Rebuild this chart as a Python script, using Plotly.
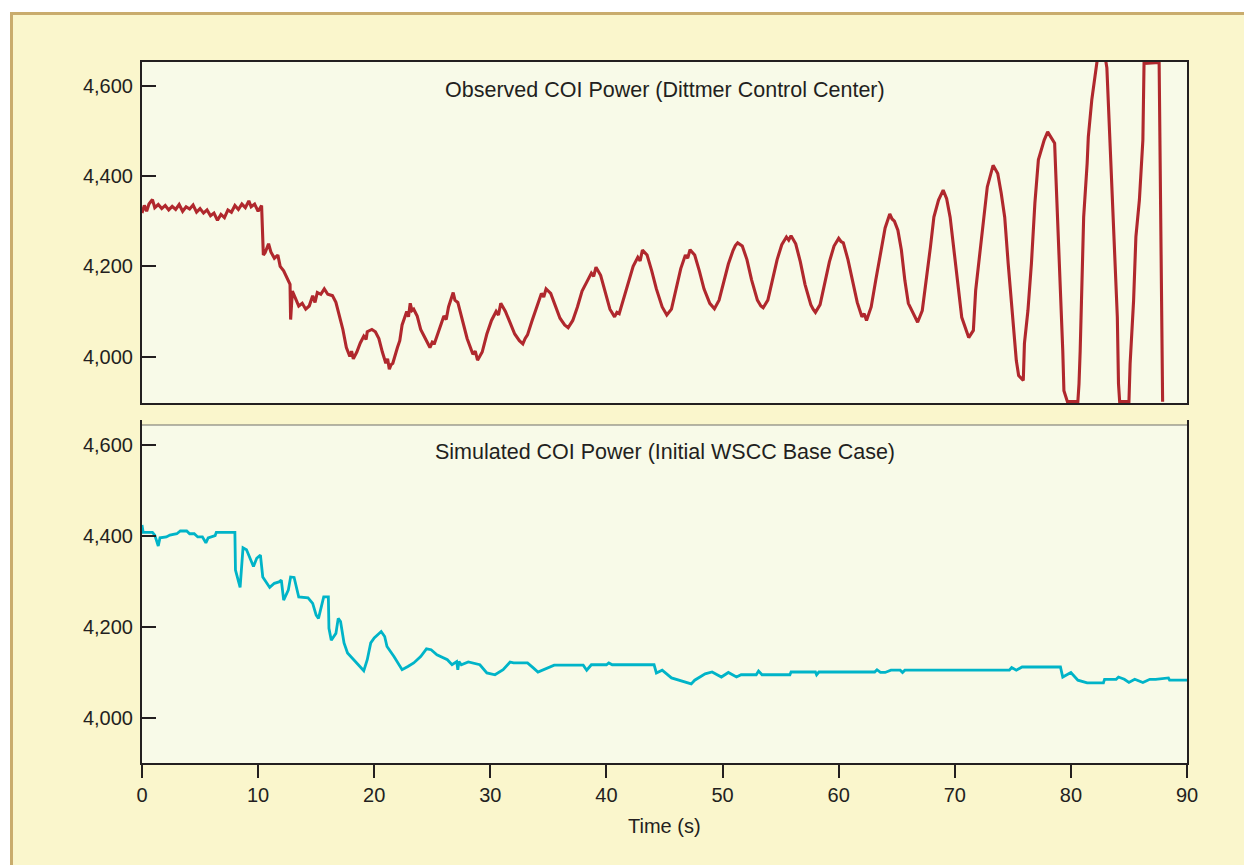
import plotly.graph_objects as go

# ---------------- data ----------------
obs_t = [0, 0.2, 0.4, 0.6, 0.9, 1.1, 1.4, 1.7, 2.0, 2.3, 2.6, 2.9, 3.2, 3.5, 3.8, 4.1, 4.4, 4.7,
         5.0, 5.3, 5.6, 5.9, 6.2, 6.5, 6.8, 7.1, 7.4, 7.7, 8.0, 8.3, 8.6, 8.9, 9.2, 9.4, 9.7, 10.0, 10.3,
         10.45, 10.6, 10.9, 11.1, 11.4, 11.7, 11.9, 12.2, 12.5, 12.75, 12.8, 12.95, 13.2, 13.5, 13.8,
         14.1, 14.4, 14.7, 14.9, 15.1, 15.4, 15.7, 16.0, 16.4, 16.7, 17.0, 17.3, 17.6, 17.9, 18.05, 18.2,
         18.5, 18.8, 19.1, 19.3, 19.4, 19.8, 20.1, 20.4, 20.7, 21.0, 21.15, 21.3, 21.45, 21.6, 22.0, 22.2, 22.4,
         22.8, 22.95, 23.1, 23.25, 23.4, 23.7, 24.0, 24.4, 24.8, 25.0, 25.2, 25.6, 26.0, 26.2, 26.4, 26.8,
         26.95, 27.2, 27.6, 28.0, 28.5, 28.7, 28.9, 29.3, 29.7, 30.1, 30.5, 30.7, 30.9, 31.3, 31.7,
         32.1, 32.5, 32.8, 33.0, 33.2, 33.6, 34.0, 34.4, 34.6, 34.8, 35.2, 35.6, 36.0, 36.4, 36.7,
         36.9, 37.1, 37.5, 37.9, 38.3, 38.7, 38.9, 39.1, 39.5, 39.9, 40.3, 40.7, 40.9, 41.1, 41.5,
         41.9, 42.3, 42.7, 42.9, 43.1, 43.5, 43.9, 44.3, 44.8, 45.0, 45.2, 45.6, 46.0, 46.4, 46.8,
         47.0, 47.2, 47.6, 48.0, 48.4, 48.9, 49.1, 49.3, 49.7, 50.1, 50.5, 50.9, 51.1, 51.3, 51.7,
         52.1, 52.5, 53.0, 53.3, 53.5, 53.9, 54.3, 54.7, 55.1, 55.5, 55.7, 55.9, 56.3, 56.7, 57.1,
         57.6, 57.8, 58.0, 58.4, 58.8, 59.2, 59.6, 60.0, 60.2, 60.4, 60.8, 61.2, 61.6, 62.0, 62.2,
         62.4, 62.8, 63.2, 63.6, 64.0, 64.4, 64.6, 64.8, 65.1, 65.4, 65.7, 66.0, 66.4, 66.8, 67.2,
         67.6, 67.9, 68.2, 68.6, 69.0, 69.3, 69.6, 69.9, 70.3, 70.6, 71.2, 71.6, 71.8, 72.2, 72.5,
         72.8, 73.3, 73.7, 74.0, 74.3, 74.6, 75.0, 75.3, 75.5, 75.9, 76.0, 76.3, 76.6, 76.9, 77.2,
         77.7, 78.0, 78.3, 78.6, 78.7, 79.0, 79.1, 79.3, 79.4, 79.7, 80.6, 80.7, 80.8, 81.0, 81.1,
         81.4, 81.5, 81.8, 82.2, 82.6, 83.1, 83.4, 83.7, 84.0, 84.1, 84.2, 85.0, 85.1, 85.4, 85.6,
         85.9, 86.2, 86.3, 87.6, 87.9]
obs_v = [4318, 4335, 4322, 4338, 4348, 4330, 4337, 4328, 4335, 4325, 4333, 4326, 4337, 4322, 4332, 4327, 4336, 4320,
         4328, 4318, 4325, 4312, 4318, 4302, 4315, 4308, 4325, 4320, 4335, 4326, 4338, 4330, 4345, 4332, 4338, 4322, 4335,
         4225, 4230, 4250, 4232, 4218, 4225, 4200, 4190, 4172, 4160, 4082, 4145, 4130, 4112, 4118,
         4105, 4112, 4135, 4120, 4142, 4138, 4150, 4138, 4135, 4120, 4090, 4060, 4020, 4000, 4012, 3995,
         4010, 4030, 4045, 4038, 4055, 4060, 4055, 4040, 4010, 3985, 3995, 3972, 3982, 3985, 4020, 4035, 4070,
         4100, 4088, 4118, 4102, 4105, 4090, 4060, 4040, 4020, 4032, 4030, 4060, 4090, 4082, 4110, 4142,
         4125, 4120, 4080, 4040, 4005, 4012, 3992, 4010, 4050, 4080, 4100, 4092, 4118, 4100, 4075,
         4050, 4035, 4028, 4040, 4048, 4080, 4110, 4140, 4132, 4150, 4140, 4110, 4085, 4070, 4064,
         4072, 4080, 4110, 4145, 4165, 4185, 4178, 4198, 4180, 4145, 4105, 4088, 4098, 4095, 4130,
         4165, 4200, 4220, 4212, 4236, 4225, 4190, 4150, 4110, 4100, 4092, 4105, 4150, 4195, 4225,
         4218, 4237, 4225, 4190, 4150, 4118, 4112, 4106, 4125, 4165, 4205, 4235, 4246, 4252, 4245,
         4215, 4170, 4125, 4112, 4108, 4125, 4170, 4215, 4248, 4265, 4258, 4268, 4250, 4210, 4160,
         4115, 4105, 4098, 4115, 4165, 4210, 4245, 4262, 4255, 4252, 4215, 4165, 4120, 4088, 4095,
         4080, 4110, 4170, 4225, 4285, 4316, 4305, 4300, 4280, 4236, 4169, 4118, 4096, 4076, 4102,
         4176, 4242, 4309, 4347, 4369, 4350, 4309, 4240, 4162, 4087, 4042, 4058, 4147, 4236, 4309,
         4376, 4424, 4406, 4362, 4309, 4206, 4073, 3991, 3958, 3947, 4029, 4102, 4206, 4340, 4436,
         4480, 4498, 4485, 4473, 4406, 4220, 4131, 4013, 3924, 3900, 3900, 3940, 4013, 4198, 4309,
         4428, 4487, 4569, 4640, 4720, 4640, 4458, 4266, 4087, 3940, 3900, 3900, 3984, 4124, 4266,
         4347, 4480, 4650, 4652, 3900]

sim_t = [0, 0.1, 0.2, 0.9, 1.1, 1.4, 1.55, 2.1, 2.4, 3.0, 3.3, 3.85, 4.1, 4.5, 4.8, 5.2, 5.5, 5.7,
         6.3, 6.4, 8.0, 8.05, 8.45, 8.7, 9.0, 9.6, 9.88, 10.2, 10.4, 10.7, 11.0, 11.4, 11.8, 12.0,
         12.2, 12.6, 12.8, 13.1, 13.5, 14.3, 14.7, 15.0, 15.2, 15.65, 16.05, 16.1, 16.3, 16.7, 16.9,
         17.1, 17.4, 17.7, 18.5, 19.1, 19.4, 19.7, 20.0, 20.6, 20.9, 21.1, 21.7, 22.4, 22.9, 23.4,
         24.0, 24.5, 24.9, 25.4, 26.3, 26.7, 27.1, 27.2, 27.3, 27.5, 28.1, 29.1, 29.7, 30.4, 31.1,
         31.7, 32.0, 33.2, 33.7, 34.1, 35.5, 38.0, 38.3, 38.7, 40.0, 40.2, 40.5, 44.1, 44.3, 44.8,
         45.6, 46.9, 47.3, 47.6, 48.5, 49.1, 49.9, 50.5, 51.2, 51.6, 52.9, 53.1, 53.4, 55.8, 55.9,
         58.0, 58.1, 58.3, 63.1, 63.3, 63.6, 64.0, 64.5, 65.3, 65.5, 65.7, 74.7, 74.9, 75.3, 75.8,
         79.1, 79.3, 80.0, 80.6, 81.4, 82.8, 82.9, 83.9, 84.1, 84.6, 85.0, 85.5, 86.2, 86.8, 87.3,
         88.4, 88.5, 90.0]
sim_v = [4424, 4408, 4408, 4408, 4402, 4378, 4396, 4398, 4402, 4405, 4411, 4411, 4405, 4405, 4398, 4398, 4385, 4396,
         4401, 4408, 4408, 4325, 4287, 4374, 4370, 4333, 4351, 4358, 4310, 4299, 4287, 4296, 4299, 4303,
         4259, 4281, 4310, 4309, 4266, 4264, 4252, 4226, 4219, 4266, 4266, 4197, 4171, 4186, 4219,
         4212, 4165, 4143, 4121, 4104, 4128, 4165, 4176, 4190, 4179, 4157, 4135, 4106, 4113, 4121,
         4135, 4152, 4150, 4139, 4128, 4117, 4124, 4106, 4124, 4117, 4123, 4117, 4099, 4095, 4106,
         4123, 4121, 4121, 4110, 4101, 4116, 4116, 4105, 4117, 4117, 4121, 4117, 4117, 4099, 4105,
         4088, 4079, 4075, 4083, 4097, 4101, 4090, 4100, 4090, 4095, 4095, 4103, 4095, 4095, 4101,
         4101, 4095, 4101, 4101, 4106, 4100, 4100, 4105, 4105, 4100, 4105, 4105, 4111, 4105, 4112,
         4112, 4090, 4100, 4083, 4077, 4077, 4085, 4085, 4090, 4085, 4078, 4085, 4078, 4085, 4085,
         4088, 4083, 4083]

x_ticks = [0, 10, 20, 30, 40, 50, 60, 70, 80, 90]
y_ticks = [4000, 4200, 4400, 4600]
y_ticktext = ["4,000", "4,200", "4,400", "4,600"]
title_top = "Observed COI Power (Dittmer Control Center)"
title_bottom = "Simulated COI Power (Initial WSCC Base Case)"
x_title = "Time (s)"

# ---------------- layout helpers ----------------
# The page places the figure 8px in from the top-left corner (body margin),
# so margins are set in figure pixels = page pixels - 8.
OFF = 8
W, H = 1252, 865
L, R, T, B = 142, 1187, 62, 763          # plot-area edges in page pixels


def px(xp):
    return (xp - L) / (R - L)


def py(yp):
    return (B - yp) / (B - T)


FONT = "Liberation Sans, Arial, Helvetica, sans-serif"
INK = "#231f20"
OUTER = "#faf6cc"
PLOTBG = "#f8fae8"
BORDER = "#c9ac6d"
RED = "#b0282d"
CYAN = "#00b4c8"

fig = go.Figure()
fig.add_trace(go.Scatter(x=obs_t, y=obs_v, mode="lines", line=dict(color=RED, width=3.1),
                         xaxis="x", yaxis="y", showlegend=False, hoverinfo="skip"))
fig.add_trace(go.Scatter(x=sim_t, y=sim_v, mode="lines", line=dict(color=CYAN, width=2.8),
                         xaxis="x2", yaxis="y2", showlegend=False, hoverinfo="skip"))

axis_common = dict(showgrid=False, zeroline=False, showline=True, linecolor=INK, linewidth=2,
                   tickfont=dict(family=FONT, size=20, color=INK))

fig.update_layout(
    width=W, height=H,
    margin=dict(l=L - OFF, r=(W + OFF) - R, t=T - OFF, b=(H + OFF) - B, pad=0),
    paper_bgcolor="white",
    plot_bgcolor="rgba(0,0,0,0)",
    font=dict(family=FONT, color=INK),
    xaxis=dict(domain=[0, 1], range=[0, 90], anchor="y", mirror=True, ticks="",
               showticklabels=False, **axis_common),
    yaxis=dict(domain=[py(403), 1], range=[3897, 4653], anchor="x", mirror=True,
               tickvals=y_ticks, ticktext=y_ticktext, ticks="inside", ticklen=14,
               tickwidth=2, tickcolor=INK, ticklabelstandoff=3, **axis_common),
    xaxis2=dict(domain=[0, 1], range=[0, 90], anchor="y2", tickvals=x_ticks,
                ticks="outside", ticklen=13, tickwidth=1.5, tickcolor=INK, **axis_common),
    yaxis2=dict(domain=[0, py(420)], range=[3901, 4655], anchor="x2", mirror=True,
                tickvals=y_ticks, ticktext=y_ticktext, ticks="inside", ticklen=14,
                tickwidth=2, tickcolor=INK, ticklabelstandoff=3, **axis_common),
)

shapes = [
    dict(type="rect", xref="paper", yref="paper", x0=px(11.5), y0=py(13.5), x1=px(1320), y1=py(920),
         fillcolor=OUTER, line=dict(color=BORDER, width=3), layer="below"),
    dict(type="rect", xref="paper", yref="paper", x0=px(L), y0=py(403), x1=px(R), y1=py(T),
         fillcolor=PLOTBG, line=dict(width=0), layer="below"),
    dict(type="rect", xref="paper", yref="paper", x0=px(L), y0=py(B), x1=px(R), y1=py(425),
         fillcolor=PLOTBG, line=dict(width=0), layer="below"),
    dict(type="line", xref="paper", yref="paper", x0=px(L), y0=py(425), x1=px(R), y1=py(425),
         line=dict(color="#6f6f6a", width=1.2), layer="below"),
]
fig.update_layout(shapes=shapes)

fig.add_annotation(text=title_top, xref="paper", yref="paper", x=0.5, y=py(90), xanchor="center",
                   yanchor="middle", showarrow=False, font=dict(family=FONT, size=21.5, color=INK))
fig.add_annotation(text=title_bottom, xref="paper", yref="paper", x=0.5, y=py(452), xanchor="center",
                   yanchor="middle", showarrow=False, font=dict(family=FONT, size=21.5, color=INK))
fig.add_annotation(text=x_title, xref="paper", yref="paper", x=0.5, y=py(826), xanchor="center",
                   yanchor="middle", showarrow=False, font=dict(family=FONT, size=20, color=INK))

fig.write_html("out.html")
